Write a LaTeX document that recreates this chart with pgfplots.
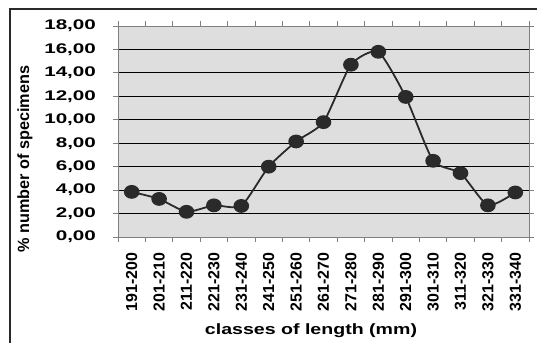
\documentclass[border=0pt]{standalone}
\usepackage{pgfplots}
\pgfplotsset{compat=1.18}
\usepackage{fontspec}
\setmainfont{Liberation Sans}
\definecolor{bgc}{HTML}{DEDEDE}
\definecolor{ln}{HTML}{2A2A2A}
\definecolor{ax}{HTML}{808080}
\begin{document}
\begin{tikzpicture}[x=1bp,y=1bp]
\path[use as bounding box] (0,0) rectangle (537,-343);
\draw[line width=1.2bp, color=ln] (10,-343) -- (10,-9) -- (537,-9);
\begin{axis}[
  at={(118bp,-237bp)}, anchor=south west, scale only axis,
  width=411bp, height=211bp,
  xmin=-0.5, xmax=14.5, ymin=0, ymax=18,
  axis background/.style={fill=bgc},
  axis line style={draw=ax, line width=0.8bp},
  tick style={draw=ax, line width=0.8bp},
  tick align=outside, major tick length=5bp,
  xtick={-0.5,0.5,...,14.5}, xticklabels={},
  extra x ticks={0,...,14},
  extra x tick labels={191-200,201-210,211-220,221-230,231-240,241-250,251-260,261-270,271-280,281-290,291-300,301-310,311-320,321-330,331-340},
  extra x tick style={major tick length=0pt},
  xticklabel style={rotate=90, anchor=east, xshift=-12bp, font=\fontsize{16}{16}\selectfont\bfseries},
  ytick={2,4,...,16},
  extra y ticks={0,18},
  extra y tick style={ymajorgrids=false},
  ymajorgrids, grid style={draw=black, line width=0.8bp},
  yticklabel style={font=\fontsize{14}{14}\selectfont\bfseries, xscale=1.48, anchor=east, xshift=-8bp},
  /pgf/number format/.cd, fixed, fixed zerofill, precision=2, use comma, assume math mode=true,
]
\addplot[color=ln, line width=1.8bp, smooth, tension=0.35, mark=*, mark size=6bp, mark options={fill=ln, draw=ln, xscale=1.15}]
coordinates {
(0,3.85) (1,3.25) (2,2.15) (3,2.7) (4,2.65) (5,6.0) (6,8.15) (7,9.8)
(8,14.7) (9,15.8) (10,11.95) (11,6.5) (12,5.45) (13,2.7) (14,3.8)
};
\end{axis}
\node[rotate=90, anchor=base, font=\fontsize{16.3}{16.3}\selectfont\bfseries] at (29,-159) {\% number of specimens};
\node[anchor=base, xscale=1.31, font=\fontsize{15}{15}\selectfont\bfseries] at (311,-334) {classes of length (mm)};
\end{tikzpicture}
\end{document}
